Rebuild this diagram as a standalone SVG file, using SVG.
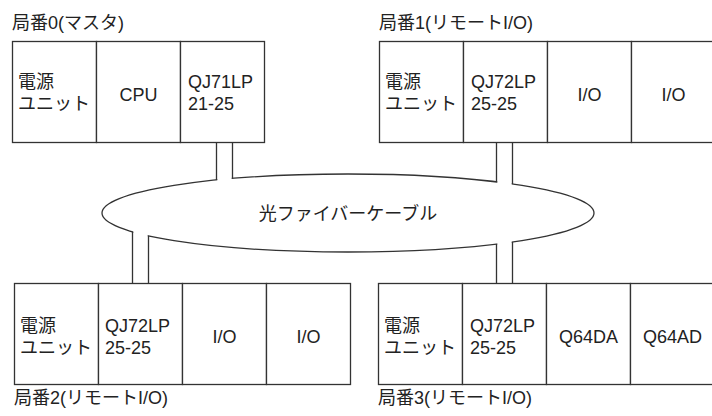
<svg xmlns="http://www.w3.org/2000/svg" width="712" height="416" viewBox="0 0 712 416">
<style>
text{font-family:"Liberation Sans","Noto Sans CJK JP",sans-serif;font-size:18px;fill:#222}
.m{text-anchor:middle}
.b{fill:#fff;stroke:#333;stroke-width:1.3}
.l{stroke:#333;stroke-width:1.3;fill:none}
.w{fill:#fff;stroke:none}
</style>
<rect width="712" height="416" fill="#fff"/>
<g id="station0">
<text x="12" y="29">局番0(マスタ)</text>
<rect class="b" x="12.5" y="41.5" width="84" height="101"/>
<rect class="b" x="96.5" y="41.5" width="84" height="101"/>
<rect class="b" x="180.5" y="41.5" width="84" height="101"/>
<text x="18" y="88">電源</text><text x="18" y="110">ユニット</text>
<text class="m" x="138.5" y="101">CPU</text>
<text x="188" y="88">QJ71LP</text><text x="188" y="110">21-25</text>
</g>
<g id="station1">
<text x="379" y="29">局番1(リモートI/O)</text>
<rect class="b" x="379.5" y="41.5" width="84" height="101"/>
<rect class="b" x="463.5" y="41.5" width="84" height="101"/>
<rect class="b" x="547.5" y="41.5" width="84" height="101"/>
<rect class="b" x="631.5" y="41.5" width="84" height="101"/>
<text x="385" y="88">電源</text><text x="385" y="110">ユニット</text>
<text x="471" y="88">QJ72LP</text><text x="471" y="110">25-25</text>
<text class="m" x="589.5" y="101">I/O</text>
<text class="m" x="673.5" y="101">I/O</text>
</g>
<g id="station2">
<rect class="b" x="14.5" y="283.5" width="84" height="101"/>
<rect class="b" x="98.5" y="283.5" width="84" height="101"/>
<rect class="b" x="182.5" y="283.5" width="84" height="101"/>
<rect class="b" x="266.5" y="283.5" width="84" height="101"/>
<text x="20" y="332">電源</text><text x="20" y="354">ユニット</text>
<text x="105" y="332">QJ72LP</text><text x="105" y="354">25-25</text>
<text class="m" x="224.5" y="343">I/O</text>
<text class="m" x="308.5" y="343">I/O</text>
<text x="14" y="404">局番2(リモートI/O)</text>
</g>
<g id="station3">
<rect class="b" x="378.5" y="283.5" width="84" height="101"/>
<rect class="b" x="462.5" y="283.5" width="84" height="101"/>
<rect class="b" x="546.5" y="283.5" width="84" height="101"/>
<rect class="b" x="630.5" y="283.5" width="84" height="101"/>
<text x="384" y="332">電源</text><text x="384" y="354">ユニット</text>
<text x="470" y="332">QJ72LP</text><text x="470" y="354">25-25</text>
<text class="m" x="588.5" y="343">Q64DA</text>
<text class="m" x="672.5" y="343">Q64AD</text>
<text x="378" y="404">局番3(リモートI/O)</text>
</g>
<g id="cable">
<ellipse class="b" cx="348" cy="213" rx="246" ry="39"/>
<text class="m" x="348" y="220">光ファイバーケーブル</text>
</g>
<g id="connectors">
<rect class="w" x="217.3" y="170" width="14.4" height="16"/>
<rect class="w" x="497.3" y="172" width="14.4" height="16"/>
<rect class="w" x="133.3" y="225" width="14.4" height="16"/>
<rect class="w" x="497.3" y="237" width="14.4" height="12"/>
<path class="l" d="M216.5 142.5V180M232.5 142.5V178.5"/>
<path class="l" d="M496.5 142.5V181.9M512.5 142.5V184"/>
<path class="l" d="M132.5 283.5V231.9M148.5 283.5V235.9"/>
<path class="l" d="M496.5 283.5V244.1M512.5 283.5V242"/>
</g>
</svg>
